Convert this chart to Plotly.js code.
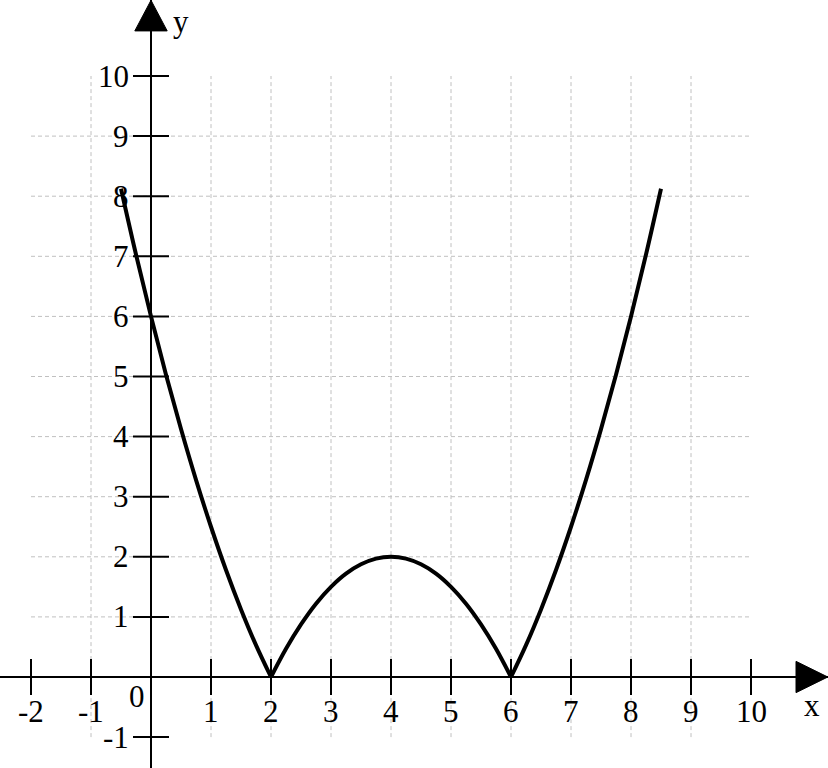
<!DOCTYPE html>
<html>
<head>
<meta charset="utf-8">
<script src="https://cdn.plot.ly/plotly-3.0.1.min.js"></script>
<style>html,body{margin:0;padding:0;background:#fff}#chart{width:828px;height:768px}</style>
</head>
<body>
<div id="chart"></div>
<script>
const curveX = [-0.5,-0.25,0,0.25,0.5,0.75,1,1.25,1.5,1.75,2,2.25,2.5,2.75,3,3.25,3.5,3.75,4,4.25,4.5,4.75,5,5.25,5.5,5.75,6,6.25,6.5,6.75,7,7.25,7.5,7.75,8,8.25,8.5];
const curveY = [8.125,7.03,6,5.03,4.125,3.28,2.5,1.78,1.125,0.53,0,0.47,0.875,1.22,1.5,1.72,1.875,1.97,2,1.97,1.875,1.72,1.5,1.22,0.875,0.47,0,0.53,1.125,1.78,2.5,3.28,4.125,5.03,6,7.03,8.125];

const xTicks = [-2,-1,1,2,3,4,5,6,7,8,9,10];
const yTicks = [-1,1,2,3,4,5,6,7,8,9,10];
const xGrid = [-1,1,2,3,4,5,6,7,8,9];
const yGrid = [1,2,3,4,5,6,7,8,9];
const gridXSpan = [-2,10];
const gridYSpan = [-1,10];

const FONT = 'Liberation Serif, Times New Roman, serif';
const shapes = [];
const annotations = [];
const gridLine = {color:'#c0c0c0', width:1, dash:'4px,3px'};

xGrid.forEach(v => shapes.push({type:'line', xref:'x', yref:'y', x0:v, x1:v, y0:gridYSpan[0], y1:gridYSpan[1], line:gridLine, layer:'below'}));
yGrid.forEach(v => shapes.push({type:'line', xref:'x', yref:'y', x0:gridXSpan[0], x1:gridXSpan[1], y0:v, y1:v, line:gridLine, layer:'below'}));

const tickHalfY = 0.3, tickHalfX = 0.3;
xTicks.forEach(v => {
  shapes.push({type:'line', xref:'x', yref:'y', x0:v, x1:v, y0:-tickHalfY, y1:tickHalfY, line:{color:'#000', width:2}});
  annotations.push({x:v, y:-0.58, xref:'x', yref:'y', text:String(v), showarrow:false, xanchor:'center', yanchor:'middle', font:{family:FONT, size:31, color:'#000'}});
});
yTicks.forEach(v => {
  shapes.push({type:'line', xref:'x', yref:'y', x0:-tickHalfX, x1:tickHalfX, y0:v, y1:v, line:{color:'#000', width:2}});
  annotations.push({x:-0.33, y:v, xref:'x', yref:'y', text:String(v), showarrow:false, xanchor:'right', yanchor:'middle', font:{family:FONT, size:31, color:'#000'}});
});
annotations.push({x:-0.23, y:-0.33, xref:'x', yref:'y', text:'0', showarrow:false, xanchor:'center', yanchor:'middle', font:{family:FONT, size:31, color:'#000'}});
annotations.push({x:11.02, y:-0.48, xref:'x', yref:'y', text:'x', showarrow:false, xanchor:'center', yanchor:'middle', font:{family:FONT, size:31, color:'#000'}});
annotations.push({x:0.5, y:10.9, xref:'x', yref:'y', text:'y', showarrow:false, xanchor:'center', yanchor:'middle', font:{family:FONT, size:31, color:'#000'}});

// arrow heads
shapes.push({type:'path', xref:'x', yref:'y', path:'M10.75,0.26 L11.28,0 L10.75,-0.26 Z', fillcolor:'#000', line:{color:'#000', width:1}});
shapes.push({type:'path', xref:'x', yref:'y', path:'M-0.27,10.75 L0,11.26 L0.27,10.75 Z', fillcolor:'#000', line:{color:'#000', width:1}});

// split the curve at its zeros so each arc is smoothed but the cusps stay sharp
const traces = [];
let segX = [], segY = [];
curveX.forEach((xv, i) => {
  segX.push(xv); segY.push(curveY[i]);
  if (curveY[i] === 0 && i > 0 && i < curveX.length - 1) {
    traces.push({x:segX, y:segY});
    segX = [xv]; segY = [curveY[i]];
  }
});
traces.push({x:segX, y:segY});
const data = traces.map(t => ({x:t.x, y:t.y, type:'scatter', mode:'lines', line:{color:'#000', width:4, shape:'spline', smoothing:1}, hoverinfo:'skip'}));

const layout = {
  width:828, height:768,
  margin:{l:0,r:0,t:0,b:0},
  paper_bgcolor:'#fff', plot_bgcolor:'#fff',
  showlegend:false,
  xaxis:{range:[-151/60, 677/60], showgrid:false, showticklabels:false, ticks:'', zeroline:true, zerolinecolor:'#000', zerolinewidth:2, fixedrange:true},
  yaxis:{range:[-91/60.1, 677/60.1], showgrid:false, showticklabels:false, ticks:'', zeroline:true, zerolinecolor:'#000', zerolinewidth:2, fixedrange:true},
  shapes:shapes,
  annotations:annotations
};
Plotly.newPlot('chart', data, layout, {staticPlot:true, displayModeBar:false});
</script>
</body>
</html>
